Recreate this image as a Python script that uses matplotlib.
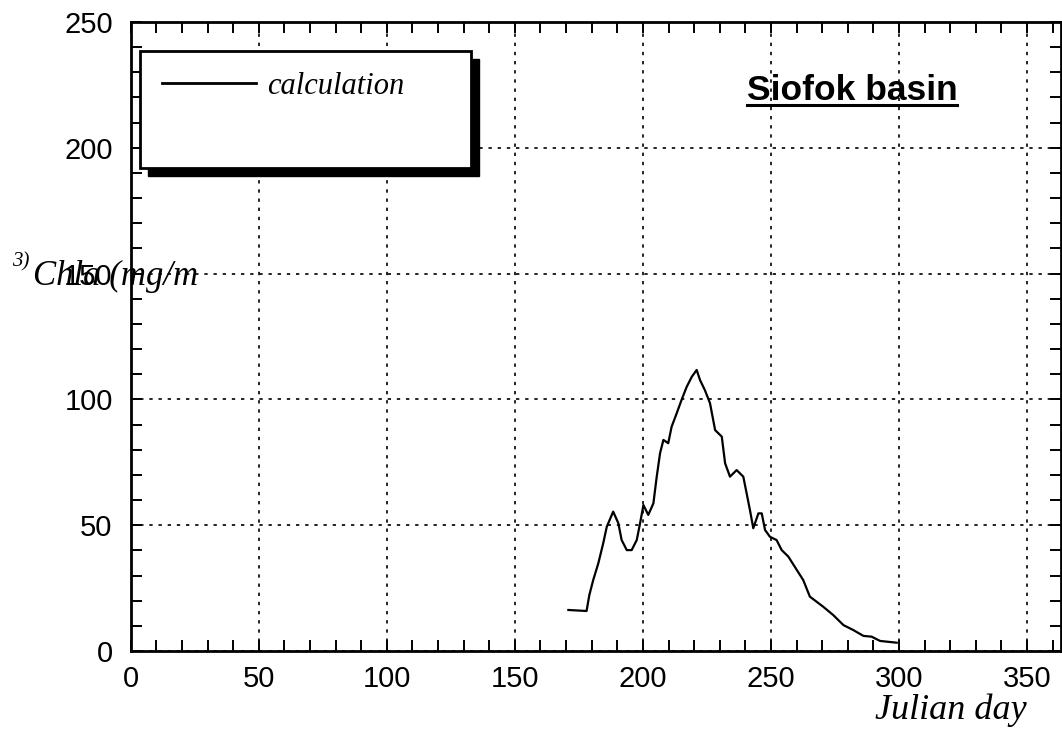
import numpy as np
import matplotlib
matplotlib.use('Agg')
import matplotlib.pyplot as plt
from matplotlib.patches import Rectangle
from matplotlib.lines import Line2D
from matplotlib.ticker import MultipleLocator

# chlorophyll-a, calculated
day = [170.9, 178.0, 179.1, 180.6, 182.6, 184.5, 185.9, 188.4, 190.4, 191.7,
       193.7, 195.6, 197.6, 198.9, 200.2, 202.1, 204.1, 205.4, 206.7, 208.0,
       209.9, 211.2, 213.2, 215.1, 217.1, 219.1, 221.0, 222.3, 224.2, 226.2,
       228.2, 230.8, 232.1, 234.0, 236.6, 239.2, 240.5, 241.8, 243.1, 245.1,
       246.4, 247.7, 249.6, 252.2, 254.2, 256.8, 260.1, 262.6, 265.2, 270.4,
       274.3, 278.3, 282.2, 286.1, 289.3, 292.6, 299.1]
chla = [16.3, 15.9, 22.3, 28.2, 34.9, 42.8, 49.4, 55.4, 50.8, 44.1,
        40.1, 40.1, 44.1, 50.8, 58.0, 54.1, 58.7, 69.3, 78.6, 83.9,
        82.6, 89.1, 94.5, 99.8, 105.0, 109.0, 111.7, 107.7, 103.7, 98.5,
        87.8, 85.2, 74.6, 69.3, 71.9, 69.3, 62.7, 56.0, 48.8, 54.7,
        54.7, 48.1, 45.4, 44.1, 40.1, 37.5, 32.2, 28.2, 21.6, 17.6,
        14.3, 10.3, 8.3, 6.0, 5.7, 4.0, 3.3]

W, H = 1062, 744
fig = plt.figure(figsize=(W / 100, H / 100), dpi=100)

# axes frame in pixels of the reference
x0, x1, ytop, ybot = 130.7, 1061.0, 22.0, 651.0
ax = fig.add_axes([x0 / W, 1 - ybot / H, (x1 - x0) / W, (ybot - ytop) / H])

ax.plot(day, chla, color='black', lw=1.6, zorder=3, label='calculation')

ax.set_xlim(0, (x1 - x0) / 2.561)
ax.set_ylim(0, 250)

ax.xaxis.set_major_locator(MultipleLocator(50))
ax.xaxis.set_minor_locator(MultipleLocator(10))
ax.yaxis.set_major_locator(MultipleLocator(50))
ax.yaxis.set_minor_locator(MultipleLocator(10))
ax.tick_params(which='both', direction='in', top=True, right=True,
               length=8, width=1.4, color='black')
ax.tick_params(axis='x', which='major', pad=10)
ax.tick_params(axis='y', which='major', pad=13)
for lab in ax.get_xticklabels() + ax.get_yticklabels():
    lab.set_fontfamily('Liberation Sans')
    lab.set_fontsize(21)

for s in ax.spines.values():
    s.set_linewidth(2)
    s.set_color('black')

ax.grid(True, which='major', color='black', lw=1.2, linestyle=(0, (2, 3.5)))
ax.set_axisbelow(True)

#legend box with heavy shadow
bx, by, bw, bh = 0.010, 0.768, 0.356, 0.186
ax.add_patch(Rectangle((bx + 0.0086, by - 0.0127), bw, bh, transform=ax.transAxes,
                       facecolor='black', edgecolor='black', zorder=4))
ax.add_patch(Rectangle((bx, by), bw, bh, transform=ax.transAxes,
                       facecolor='white', edgecolor='black', lw=2, zorder=5))
leg = ax.legend(loc='center left',
                bbox_to_anchor=((161.7 - x0) / (x1 - x0), (ybot - 86) / (ybot - ytop)),
                frameon=False, borderpad=0, borderaxespad=0,
                handlelength=3.1, handletextpad=0.35,
                prop={'family': 'Liberation Serif', 'style': 'italic', 'size': 22})
leg.set_zorder(6)
leg.get_lines()[0].set_linewidth(2)

# title, underlined
title = ax.text((852 - x0) / (x1 - x0), (ybot - 100) / (ybot - ytop), 'Siofok basin',
                transform=ax.transAxes, ha='center', va='baseline',
                fontfamily='Liberation Sans', fontweight='bold', fontsize=25.5, zorder=6)
fig.canvas.draw()
bb = title.get_window_extent()
fig.add_artist(Line2D([bb.x0 / W, bb.x1 / W], [1 - 105 / H, 1 - 105 / H],
                      color='black', lw=2.2))

# axis labels as placed on the scan
fig.text(33 / W, 1 - 285 / H, 'Chla (mg/m', fontfamily='Liberation Serif',
         style='italic', fontsize=25, va='baseline', ha='left')
fig.text(12 / W, 1 - 266 / H, '3)', fontfamily='Liberation Serif',
         style='italic', fontsize=15, va='baseline', ha='left')
fig.text(951 / W, 1 - 710 / H, 'Julian day', fontfamily='Liberation Serif',
         style='italic', fontsize=26, va='center', ha='center')

plt.savefig('out.png', dpi=100)
